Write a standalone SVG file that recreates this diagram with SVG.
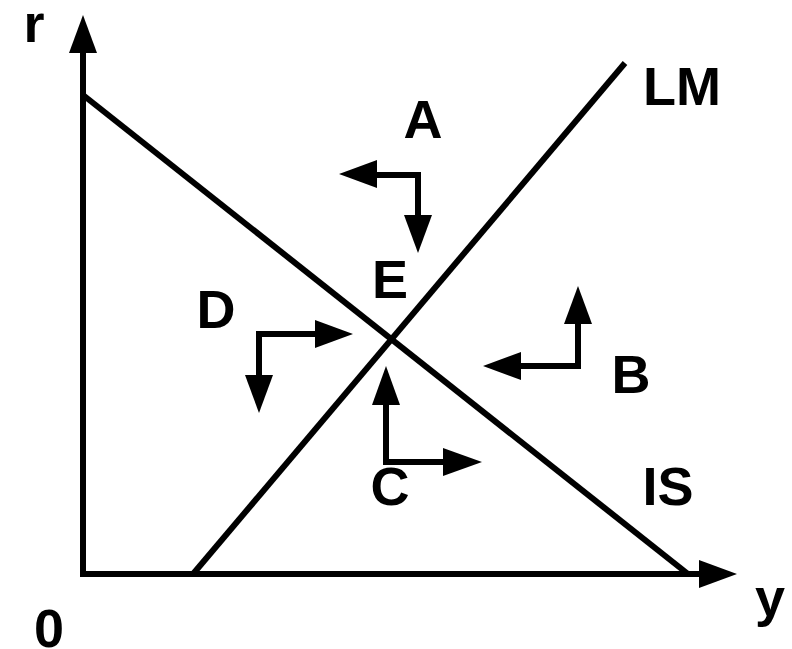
<svg xmlns="http://www.w3.org/2000/svg" width="792" height="649" viewBox="0 0 792 649">
<style>
.ln{stroke:#000;stroke-width:6;fill:none;stroke-linecap:butt;stroke-linejoin:miter}
.hd{fill:#000;stroke:none}
.lb{font-family:"Liberation Sans",Arial,sans-serif;font-weight:bold;font-size:54px;fill:#000;text-anchor:middle}
</style>
<rect width="792" height="649" fill="#fff"/>
<g id="axes">
<polyline class="ln" points="83,53 83,574 699,574"/>
<polygon class="hd" points="69,53 97,53 83,15"/>
<polygon class="hd" points="699,560 699,588 737,574"/>
</g>
<g id="curves">
<line id="IS-curve" class="ln" x1="83" y1="95" x2="688" y2="574"/>
<line id="LM-curve" class="ln" x1="193" y1="574" x2="625" y2="63"/>
</g>
<g id="connectors">
<g id="arrowA">
<polyline class="ln" points="377,175 418,175 418,215"/>
<polygon class="hd" points="377,160 377,188 339,174"/>
<polygon class="hd" points="404,215 432,215 418,253"/>
</g>
<g id="arrowD">
<polyline class="ln" points="315,334 259,334 259,375"/>
<polygon class="hd" points="315,320 315,348 353,334"/>
<polygon class="hd" points="245,375 273,375 259,413"/>
</g>
<g id="arrowB">
<polyline class="ln" points="521,366 578,366 578,324"/>
<polygon class="hd" points="521,352 521,380 483,366"/>
<polygon class="hd" points="564,324 592,324 578,286"/>
</g>
<g id="arrowC">
<polyline class="ln" points="386,405 386,462 443,462"/>
<polygon class="hd" points="372,405 400,405 386,366"/>
<polygon class="hd" points="443,448 443,476 482,462"/>
</g>
</g>
<g id="labels">
<text class="lb" x="34" y="42">r</text>
<text class="lb" x="770" y="616">y</text>
<text class="lb" x="49" y="647">0</text>
<text class="lb" x="423" y="138">A</text>
<text class="lb" x="682" y="105">LM</text>
<text class="lb" x="390" y="298">E</text>
<text class="lb" x="216" y="328">D</text>
<text class="lb" x="631" y="393">B</text>
<text class="lb" x="390" y="505">C</text>
<text class="lb" x="668" y="505">IS</text>
</g>
</svg>
